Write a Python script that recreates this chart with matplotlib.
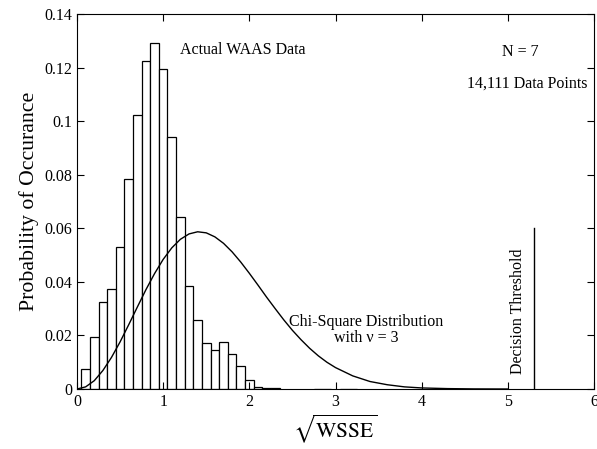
"""Histogram of WAAS sqrt(WSSE) against a chi-square (nu=3) curve"""
import matplotlib
matplotlib.use("Agg")
import matplotlib.pyplot as plt  # type: ignore

plt.rcParams['font.family'] = ['Liberation Serif', 'DejaVu Serif']
plt.rcParams['mathtext.fontset'] = 'stix'

# histogram bin centres and heights (bin width 0.1)
bin_centers = [0.1, 0.2, 0.3, 0.4, 0.5, 0.6, 0.7, 0.8, 0.9, 1.0, 1.1,
               1.2, 1.3, 1.4, 1.5, 1.6, 1.7, 1.8, 1.9, 2.0, 2.1, 2.2,
               2.3, 2.8, 2.9, 3.1, 3.2]
bin_heights = [0.0074, 0.0193, 0.0324, 0.0373, 0.0529, 0.0783, 0.1022,
               0.1226, 0.1293, 0.1194, 0.0940, 0.0642, 0.0383, 0.0259,
               0.0171, 0.0146, 0.0175, 0.0131, 0.0087, 0.0034, 0.0009,
               0.0003, 0.0003, 0.0001, 0.0001, 0.0001, 0.0001]

# chi-square curve
curve_x = [0.0, 0.1, 0.2, 0.3, 0.4, 0.5, 0.6, 0.7, 0.8, 0.9, 1.0, 1.1,
           1.2, 1.3, 1.4, 1.5, 1.6, 1.7, 1.8, 1.9, 2.0, 2.1, 2.2, 2.3,
           2.4, 2.5, 2.6, 2.7, 2.8, 2.9, 3.0, 3.2, 3.4, 3.6, 3.8, 4.0,
           4.3, 4.6, 5.0]
curve_y = [0.0, 0.0008, 0.0031, 0.0069, 0.0118, 0.0176, 0.0240, 0.0306,
           0.0371, 0.0431, 0.0484, 0.0527, 0.0559, 0.0579, 0.0587, 0.0583,
           0.0568, 0.0544, 0.0512, 0.0474, 0.0432, 0.0388, 0.0343, 0.0300,
           0.0258, 0.0219, 0.0184, 0.0152, 0.0124, 0.0100, 0.0080, 0.0049,
           0.0028, 0.0016, 0.0008, 0.0004, 0.00015, 0.00004, 0.0]

threshold = 5.3
threshold_top = 0.06

fig = plt.figure(figsize=(5.97, 4.49), dpi=100)
ax = fig.add_axes([0.129, 0.1336, 0.866, 0.8352])

ax.bar(bin_centers, bin_heights, width=0.1, facecolor='white',
       edgecolor='black', linewidth=0.9)
ax.plot(curve_x, curve_y, color='black', linewidth=1.0)
ax.plot([threshold, threshold], [0, threshold_top], color='black', linewidth=1.0)

fs = 11.5
ax.text(1.92, 0.1266, "Actual WAAS Data", ha='center', va='center', fontsize=fs)
ax.text(5.14, 0.1259, "N = 7", ha='center', va='center', fontsize=fs)
ax.text(5.23, 0.1141, "14,111 Data Points", ha='center', va='center', fontsize=fs)
ax.text(3.36, 0.0251, "Chi-Square Distribution", ha='center', va='center', fontsize=fs)
ax.text(3.36, 0.0189, "with \u03bd = 3", ha='center', va='center', fontsize=fs)
ax.text(5.12, 0.029, "Decision Threshold", ha='center', va='center',
        rotation=90, fontsize=fs)

ax.set_xlim(0, 6)
ax.set_ylim(0, 0.14)
ax.set_xticks([0, 1, 2, 3, 4, 5, 6])
ax.set_yticks([0, 0.02, 0.04, 0.06, 0.08, 0.1, 0.12, 0.14])
ax.set_yticklabels(["0", "0.02", "0.04", "0.06", "0.08", "0.1", "0.12", "0.14"])
ax.tick_params(direction='in', top=True, right=True, length=5, labelsize=11.5)
ax.set_xlabel(r"$\sqrt{\mathrm{WSSE}}$", fontsize=15.5, labelpad=2)
ax.set_ylabel("Probability of Occurance", fontsize=15.7, labelpad=4)

fig.savefig("out.png", dpi=100)
